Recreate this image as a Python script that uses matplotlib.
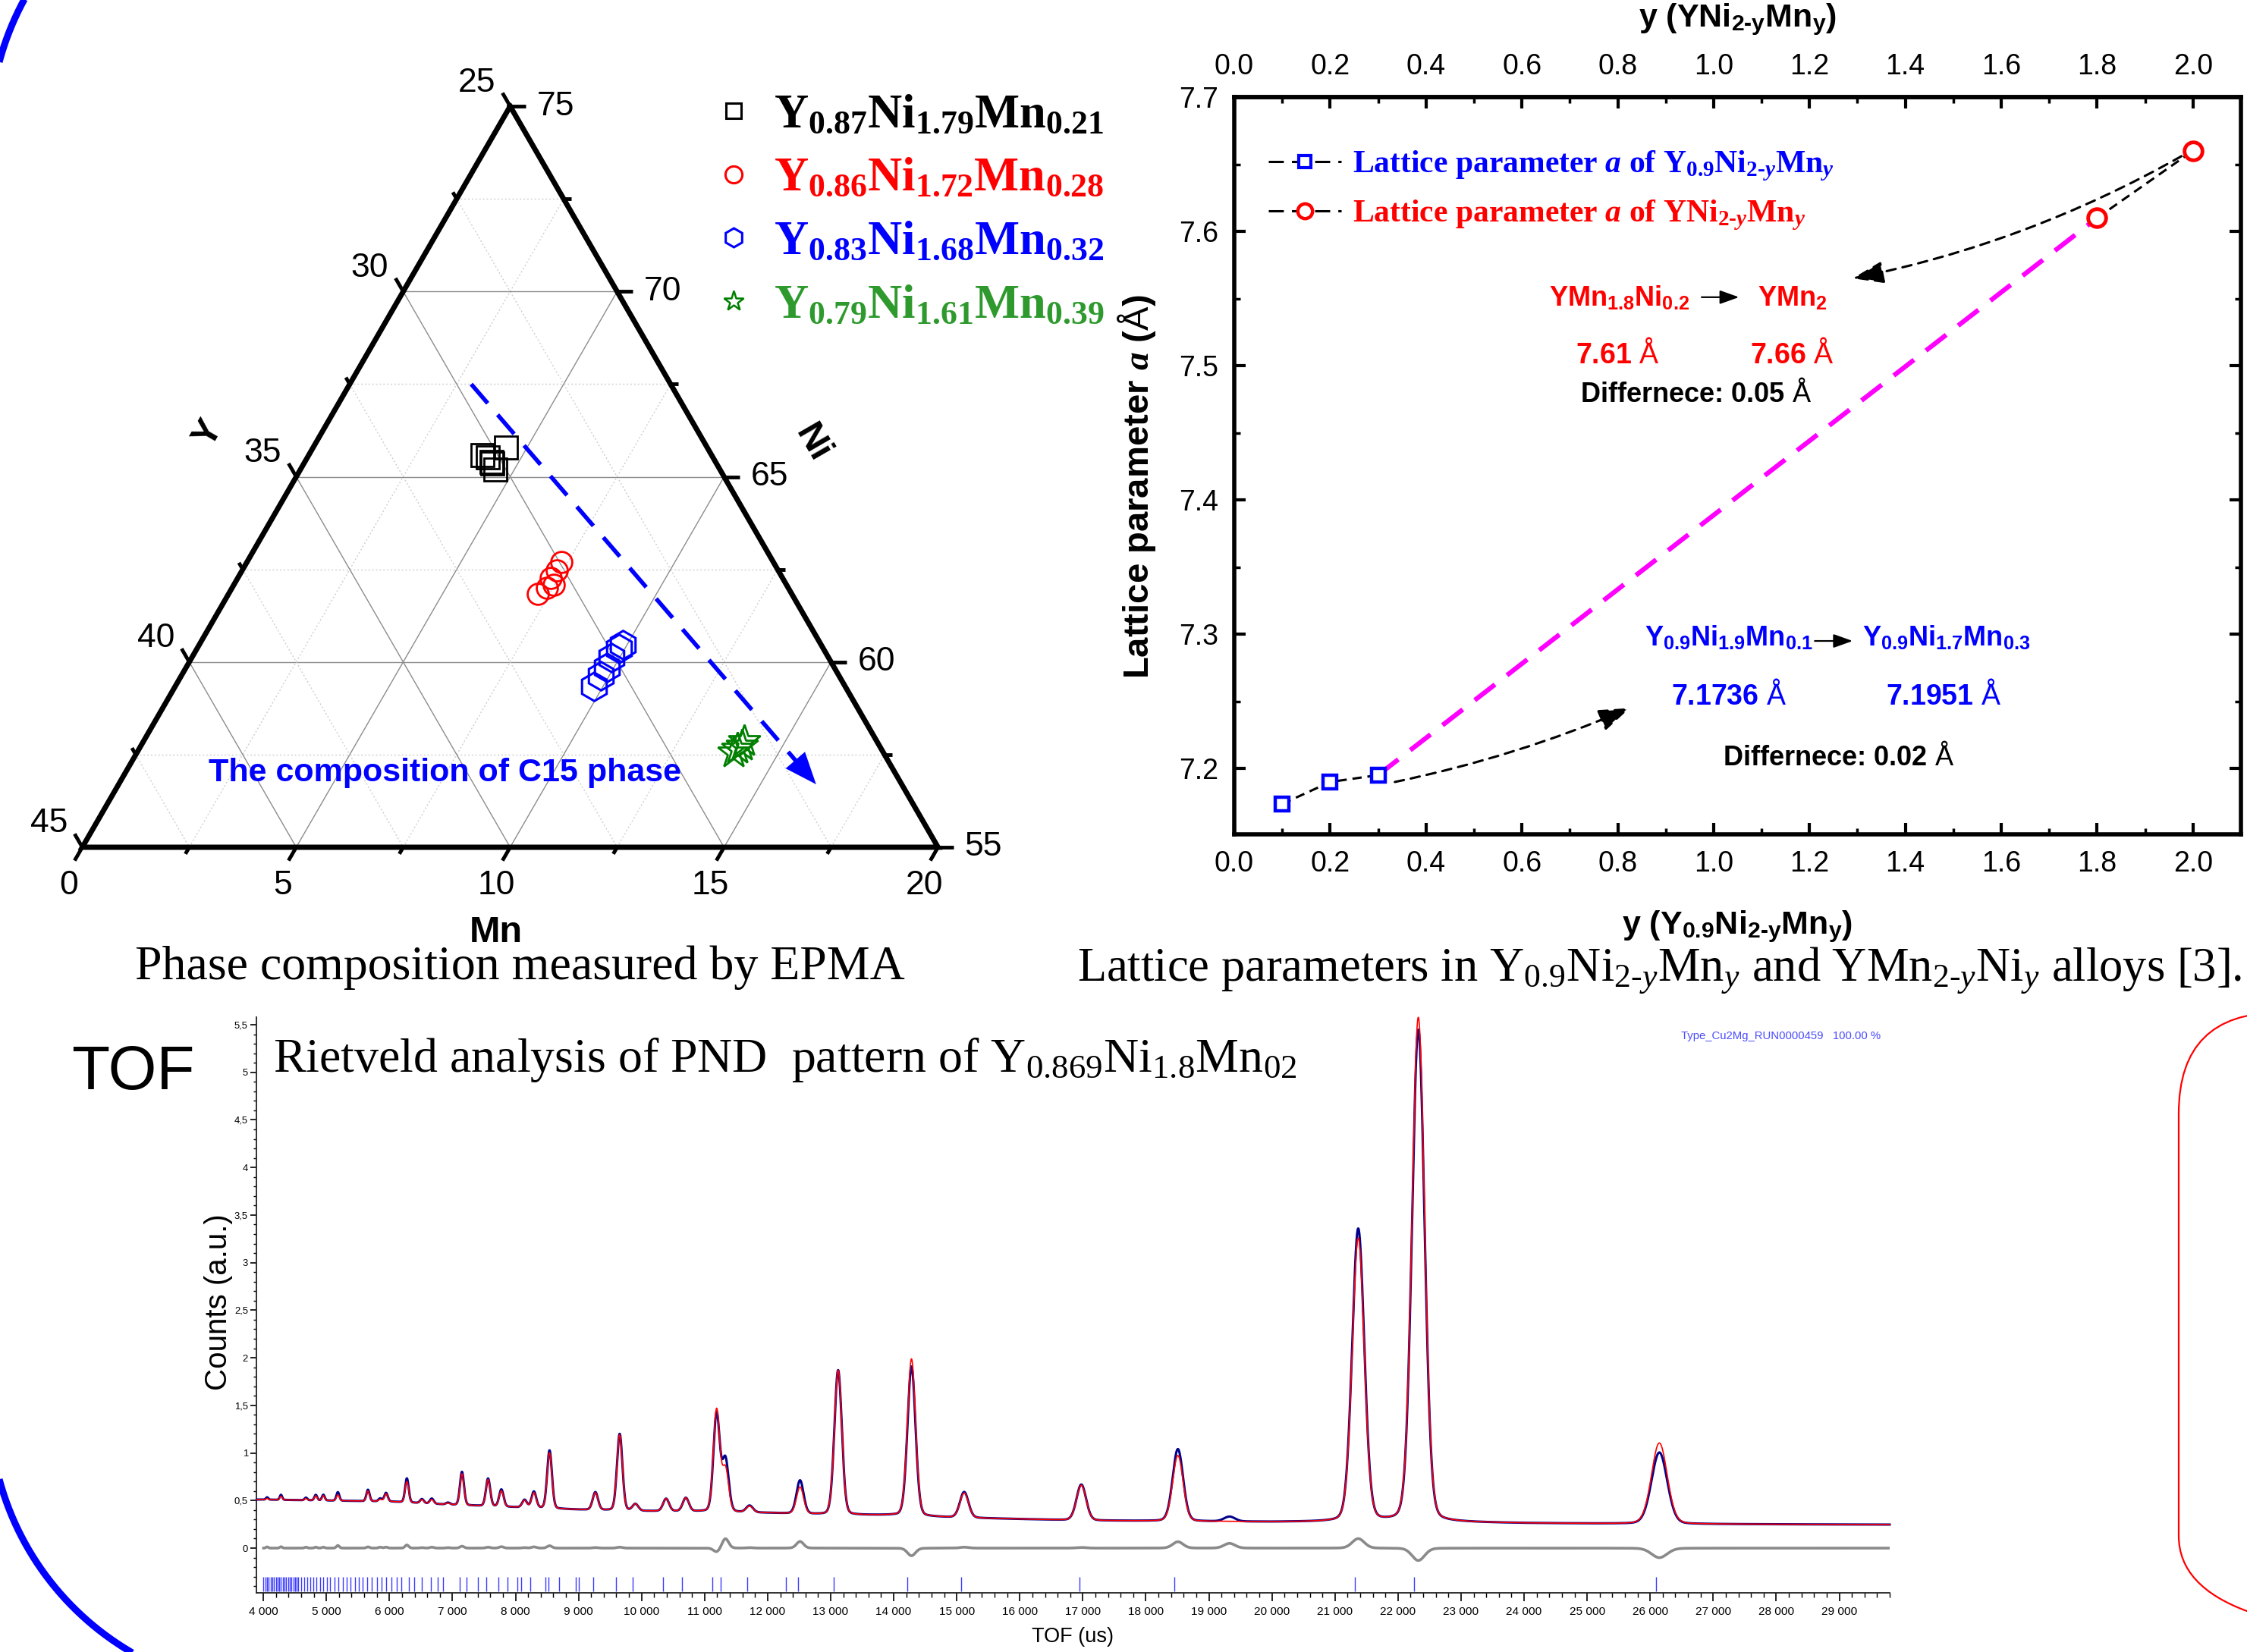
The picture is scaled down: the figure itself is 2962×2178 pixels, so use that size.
import numpy as np
import matplotlib
matplotlib.use('Agg')
import matplotlib.pyplot as plt
from matplotlib.lines import Line2D
from matplotlib.patches import FancyBboxPatch
from matplotlib.ticker import MultipleLocator, FuncFormatter, FormatStrFormatter, FixedLocator
from matplotlib import font_manager

# ====================== DATA ======================
# --- Ternary (EPMA) compositions, at.% (Y = 100 - Ni - Mn) ---
sq_ni = [65.58, 65.79, 65.41, 65.19, 65.53, 65.35]
sq_mn = [4.06, 4.50, 4.36, 4.56, 4.22, 4.40]
ci_ni = [62.69, 62.47, 62.26, 62.09, 61.83, 62.00]
ci_mn = [7.35, 7.35, 7.32, 7.48, 7.23, 7.36]
hx_ni = [60.46, 60.37, 60.11, 59.85, 59.63, 59.34]
hx_mn = [9.90, 9.86, 9.82, 9.83, 9.81, 9.79]
st_ni = [57.87, 57.67, 57.56, 57.75]
st_mn = [14.04, 13.97, 13.94, 14.05]
c15_ni = [67.5, 56.7]
c15_mn = [2.84, 16.3]
tern_labels = [r'Y$_{\mathbf{0.87}}$Ni$_{\mathbf{1.79}}$Mn$_{\mathbf{0.21}}$',
               r'Y$_{\mathbf{0.86}}$Ni$_{\mathbf{1.72}}$Mn$_{\mathbf{0.28}}$',
               r'Y$_{\mathbf{0.83}}$Ni$_{\mathbf{1.68}}$Mn$_{\mathbf{0.32}}$',
               r'Y$_{\mathbf{0.79}}$Ni$_{\mathbf{1.61}}$Mn$_{\mathbf{0.39}}$']

# --- Lattice parameters ---
y_a = [0.1, 0.2, 0.3]
a_a = [7.1736, 7.19, 7.1951]
y_b = [1.8, 2.0]
a_b = [7.61, 7.66]
lat_xticks = [0.0, 0.2, 0.4, 0.6, 0.8, 1.0, 1.2, 1.4, 1.6, 1.8, 2.0]

# --- TOF Rietveld pattern ---
bg_tof = [3890, 4000, 5000, 6000, 7000, 8000, 9000, 10000, 11000, 12000, 13000, 14000,
          15000, 16000, 17000, 18000, 19000, 20000, 21000, 22000, 23000, 24000, 25000,
          26000, 27000, 28000, 29000, 29800]
bg_val = [0.51, 0.51, 0.50, 0.49, 0.455, 0.43, 0.405, 0.39, 0.385, 0.37, 0.35, 0.345,
          0.32, 0.305, 0.29, 0.285, 0.28, 0.275, 0.275, 0.275, 0.27, 0.262, 0.258,
          0.255, 0.252, 0.25, 0.248, 0.247]
pk_tof = [4060, 4280, 4676, 4832, 4952, 5182, 5660, 5854, 5946, 6277, 6516, 6672, 6930,
          7151, 7565, 7776, 8144, 8292, 8540, 9267, 9653, 9902, 10389, 10702, 11190,
          11330, 11714, 12514, 13118, 14282, 15118, 16976, 18508, 19327, 21369, 22322, 26146]
pk_obs = [0.025, 0.053, 0.027, 0.058, 0.060, 0.090, 0.120, 0.030, 0.090, 0.253, 0.043,
          0.054, 0.020, 0.350, 0.290, 0.180, 0.080, 0.170, 0.610, 0.186, 0.805, 0.070,
          0.130, 0.140, 1.030, 0.550, 0.070, 0.350, 1.520, 1.570, 0.270, 0.377, 0.757,
          0.050, 3.075, 5.170, 0.750]
pk_calc = [0.012, 0.038, 0.017, 0.048, 0.050, 0.062, 0.107, 0.020, 0.080, 0.220, 0.038,
           0.044, 0.015, 0.330, 0.280, 0.165, 0.075, 0.157, 0.585, 0.180, 0.795, 0.070,
           0.130, 0.140, 1.070, 0.450, 0.065, 0.280, 1.520, 1.650, 0.260, 0.370, 0.690,
           0.000, 2.975, 5.300, 0.850]
pk_sig = [18, 19, 21, 22, 22, 23, 25, 26, 27, 28, 29, 30, 31, 32, 34, 35, 37, 37, 38, 42,
          43, 45, 47, 48, 50, 51, 53, 56, 59, 64, 68, 76, 83, 87, 96, 100, 125]
bragg = [4004, 4032, 4060, 4087, 4115, 4142, 4170, 4198, 4225, 4253, 4280, 4308, 4336,
         4363, 4391, 4418, 4446, 4474, 4501, 4529, 4556, 4602, 4648, 4694, 4740, 4796,
         4842, 4897, 4952, 5007, 5062, 5127, 5191, 5256, 5320, 5384, 5449, 5513, 5578,
         5651, 5725, 5798, 5872, 5946, 6028, 6111, 6194, 6314, 6396, 6516, 6654, 6764,
         6856, 7114, 7224, 7408, 7537, 7730, 7868, 8034, 8089, 8236, 8476, 8522, 8696,
         8954, 9009, 9230, 9598, 9856, 10343, 10647, 11125, 11254, 11677, 12294, 12478,
         13048, 14210, 15072, 16946, 18457, 21310, 22255, 26095]

# ====================== STYLE ======================
W, H, DPI = 2962, 2178, 100
HY = '\u00ad'  # hyphen glyph for "2-y" subscripts
names = {f.name for f in font_manager.fontManager.ttflist}
NARROW = 'Liberation Sans Narrow' if 'Liberation Sans Narrow' in names else 'Liberation Sans'
nscale = 1.0 if NARROW == 'Liberation Sans Narrow' else 0.85

plt.rcParams.update({
    'font.family': ['Liberation Sans', 'DejaVu Sans'],
    'mathtext.fontset': 'custom',
    'mathtext.rm': 'Liberation Serif',
    'mathtext.it': 'Liberation Serif:italic',
    'mathtext.bf': 'Liberation Serif:bold',
    'mathtext.sf': 'Liberation Sans:bold',
    'mathtext.tt': 'Liberation Sans',
    'mathtext.cal': 'Liberation Sans:bold:italic',
})
if 'mathtext.bfit' in plt.rcParams:
    plt.rcParams['mathtext.bfit'] = 'Liberation Serif:italic:bold'
    BFIT = r'\mathbfit'
else:
    BFIT = r'\mathit'

fig = plt.figure(figsize=(W / DPI, H / DPI), dpi=DPI)
fig.patch.set_facecolor('white')


def fx(px):
    return px / W


def fy(py):
    return 1 - py / H


def rect(l, t, r, b):
    return [fx(l), fy(b), (r - l) / W, (b - t) / H]


# ---------- decorations (blue and red rounded frames) ----------
deco = fig.add_axes([0, 0, 1, 1], zorder=0)
deco.set_xlim(0, W)
deco.set_ylim(H, 0)
deco.axis('off')
R_b, cx_b, ytop_c, ybot_c = 378.0, 364.0, 180.0, 1852.0
th_top = np.radians(np.linspace(270, 180, 60))
th_bot = np.radians(np.linspace(180, 90, 60))
fx_b = np.concatenate([cx_b + R_b * np.cos(th_top), cx_b + R_b * np.cos(th_bot)])
fy_b = np.concatenate([ytop_c + R_b * np.sin(th_top), ybot_c + R_b * np.sin(th_bot)])
deco.plot(fx_b, fy_b, color='#0000ff', lw=6.5, solid_capstyle='butt')
deco.add_patch(FancyBboxPatch((2872, 1335), 500, 823,
                              boxstyle='round,pad=0,rounding_size=133',
                              fc='none', ec='#ff0000', lw=1.6))

# ====================== TERNARY ======================
S3 = np.sqrt(3) / 2


def txy(ni, mn):
    ni = np.asarray(ni, float)
    mn = np.asarray(mn, float)
    a = (ni - 55) / 20
    b = mn / 20
    return b + 0.5 * a, a * S3


X0, Y0, S = 108.5, 1117, 1128
tern = fig.add_axes(rect(0, 0, 1480, 1320), zorder=2)
tern.set_xlim(-X0 / S, (1480 - X0) / S)
tern.set_ylim(-(1320 - Y0) / S, Y0 / S)
tern.axis('off')
tern.patch.set_visible(False)

for v in np.arange(2.5, 19.9, 2.5):
    major = abs(v % 5) < 1e-9
    kw = dict(color='#8c8c8c', lw=1.0, ls='-') if major else \
        dict(color='#cfcfcf', lw=1.0, ls=(0, (1.5, 2.0)))
    x, y = txy([55, 75 - v], [v, v])
    tern.plot(x, y, zorder=1, **kw)
    x, y = txy([55 + v, 55 + v], [0, 20 - v])
    tern.plot(x, y, zorder=1, **kw)
    x, y = txy([75 - v, 55], [0, 20 - v])
    tern.plot(x, y, zorder=1, **kw)

x, y = txy([75, 55, 55, 75], [0, 0, 20, 0])
tern.plot(x, y, color='k', lw=5, solid_joinstyle='miter', zorder=3)

TFS = 32
for k, v in enumerate(np.arange(0, 20.01, 2.5)):
    major = k % 2 == 0
    L = 0.018 if major else 0.009
    # Ni (right side)
    x, y = txy(55 + v, 20 - v)
    tern.plot([x, x + L], [y, y], color='k', lw=3.5, solid_capstyle='butt', zorder=3)
    if major:
        tern.text(x + L + 0.013, y, f'{55 + v:g}', ha='left', va='center', fontsize=TFS)
    # Y (left side)
    x, y = txy(75 - v, 0)
    tern.plot([x, x - 0.5 * L], [y, y + S3 * L], color='k', lw=3.5, solid_capstyle='butt', zorder=3)
    if major:
        tern.text(x - 0.5 * L - 0.008, y + S3 * L + 0.012, f'{25 + v:g}', ha='right',
                  va='center', fontsize=TFS)
    # Mn (bottom)
    x, y = txy(55, v)
    tern.plot([x, x - 0.5 * L], [y, y - S3 * L], color='k', lw=3.5, solid_capstyle='butt', zorder=3)
    if major:
        tern.text(x - 0.5 * L - 0.007, y - S3 * L - 0.011, f'{v:g}', ha='center', va='top',
                  fontsize=TFS)

tern.text(0.4836, -0.100, 'Mn', fontsize=35, fontweight='bold', ha='center', va='center')
tern.text(0.853, 0.4716, 'Ni', fontsize=35, fontweight='bold', ha='center', va='center',
          rotation=-60)
tern.text(0.1467, 0.4832, 'Y', fontsize=35, fontweight='bold', ha='center', va='center',
          rotation=60)

# C15 arrow
ax_, ay_ = txy(c15_ni, c15_mn)
frac = 0.96
tern.plot([ax_[0], ax_[0] + frac * (ax_[1] - ax_[0])], [ay_[0], ay_[0] + frac * (ay_[1] - ay_[0])],
          color='#0000ff', lw=4, ls=(0, (6, 3.6)), zorder=4)
tern.annotate('', xy=(ax_[1], ay_[1]),
              xytext=(ax_[0] + 0.92 * (ax_[1] - ax_[0]), ay_[0] + 0.92 * (ay_[1] - ay_[0])),
              arrowprops=dict(arrowstyle='-|>,head_length=1.0,head_width=0.4', color='#0000ff',
                              lw=0.1, mutation_scale=30, shrinkA=0, shrinkB=0), zorder=4)
tern.text(0.4242, 0.0869, 'The composition of C15 phase', color='#0000ff', fontsize=31,
          fontweight='bold', ha='center', va='center', zorder=5)

# data
x, y = txy(sq_ni, sq_mn)
tern.plot(x, y, ls='none', marker='s', ms=21, mfc='none', mec='k', mew=2.0, zorder=5)
x, y = txy(ci_ni, ci_mn)
tern.plot(x, y, ls='none', marker='o', ms=20, mfc='none', mec='#ff0000', mew=2.0, zorder=5)
x, y = txy(hx_ni, hx_mn)
tern.plot(x, y, ls='none', marker='h', ms=27, mfc='none', mec='#0000ff', mew=2.2, zorder=5)
x, y = txy(st_ni, st_mn)
tern.plot(x, y, ls='none', marker='*', ms=32, mfc='none', mec='#007f00', mew=2.0, zorder=5)

hnd = [Line2D([], [], ls='none', marker='s', ms=15, mfc='none', mec='k', mew=2.2),
       Line2D([], [], ls='none', marker='o', ms=16, mfc='none', mec='#ff0000', mew=2.2),
       Line2D([], [], ls='none', marker='h', ms=18, mfc='none', mec='#0000ff', mew=2.2),
       Line2D([], [], ls='none', marker='*', ms=20, mfc='none', mec='#007f00', mew=1.8)]
tern.legend(hnd, tern_labels, loc='upper left', bbox_to_anchor=(fx(948), fy(124)),
            bbox_transform=fig.transFigure, frameon=False,
            prop={'family': 'Liberation Serif', 'weight': 'bold', 'size': 45},
            labelcolor=['#000000', '#ff0000', '#0000ff', '#2e9a2e'],
            handlelength=0.6, handletextpad=0.55, labelspacing=0.41,
            borderpad=0, borderaxespad=0)

# ====================== LATTICE ======================
lat = fig.add_axes(rect(1627, 128, 2954, 1100), zorder=2)
lat.set_xlim(0, 2.1)
lat.set_ylim(7.151, 7.7)
for s in lat.spines.values():
    s.set_linewidth(4)
lat.xaxis.set_major_locator(FixedLocator(lat_xticks))
lat.xaxis.set_minor_locator(FixedLocator(np.round(np.arange(0.1, 2.05, 0.2), 2)))
lat.yaxis.set_major_locator(MultipleLocator(0.1))
lat.yaxis.set_minor_locator(MultipleLocator(0.05))
lat.xaxis.set_major_formatter(FormatStrFormatter('%.1f'))
lat.yaxis.set_major_formatter(FormatStrFormatter('%.1f'))
lat.tick_params(which='major', direction='in', length=11, width=3, labelsize=27)
lat.tick_params(which='minor', direction='in', length=6, width=2.5)
lat.tick_params(axis='y', which='both', right=True, pad=15)
lat.tick_params(axis='x', which='both', top=False, pad=15)

sec = lat.secondary_xaxis('top')
sec.xaxis.set_major_locator(FixedLocator(lat_xticks))
sec.xaxis.set_minor_locator(FixedLocator(np.round(np.arange(0.1, 2.05, 0.2), 2)))
sec.xaxis.set_major_formatter(FormatStrFormatter('%.1f'))
sec.tick_params(which='major', direction='in', length=11, width=3, labelsize=27, pad=16)
sec.tick_params(which='minor', direction='in', length=6, width=2.5)
sec.spines['top'].set_linewidth(4)
sec.set_xlabel(r'y (YNi$_{\mathsf{2' + HY + r'y}}$Mn$_{\mathsf{y}}$)', fontsize=31,
               fontweight='bold', labelpad=25)

lat.set_xlabel(r'y (Y$_{\mathsf{0.9}}$Ni$_{\mathsf{2' + HY + r'y}}$Mn$_{\mathsf{y}}$)', fontsize=31,
               fontweight='bold', labelpad=30)
lat.set_ylabel(r'Lattice parameter $' + BFIT + r'{a}$ ($\mathtt{Å}$)', fontsize=34,
               fontweight='bold')
lat.yaxis.set_label_coords(-0.076, 0.471)

lat.plot([y_a[-1], y_b[0]], [a_a[-1], a_b[0]], color='#ff00ff', lw=4.5, ls=(0, (5.4, 3.2)),
         zorder=2)
lat.plot(y_a, a_a, color='k', lw=2.2, ls=(0, (4, 2.5)), marker='s', ms=13, mfc='white',
         mec='#0000ff', mew=3.2, zorder=4)
lat.plot(y_b, a_b, color='k', lw=2.2, ls=(0, (4, 2.5)), marker='o', ms=17, mfc='white',
         mec='#ff0000', mew=3.5, zorder=4)

lat.annotate('', xy=(0.825, 7.245), xytext=(0.335, 7.19),
             arrowprops=dict(arrowstyle='-|>,head_length=0.9,head_width=0.32', color='k', lw=2.2,
                             ls=(0, (4, 3)), connectionstyle='arc3,rad=0.05', shrinkA=0,
                             shrinkB=0, mutation_scale=28))
lat.annotate('', xy=(1.29, 7.565), xytext=(1.976, 7.656),
             arrowprops=dict(arrowstyle='-|>,head_length=0.9,head_width=0.32', color='k', lw=2.2,
                             ls=(0, (4, 3)), connectionstyle='arc3,rad=-0.08', shrinkA=0,
                             shrinkB=0, mutation_scale=28))
for (x0, x1, yy) in [(0.975, 1.053, 7.551), (1.211, 1.290, 7.295)]:
    lat.annotate('', xy=(x1, yy), xytext=(x0, yy),
                 arrowprops=dict(arrowstyle='-|>,head_length=0.7,head_width=0.25', color='k',
                                 lw=1.6, shrinkA=0, shrinkB=0, mutation_scale=22))

AFS = 26
lat.text(0.8035, 7.544, r'YMn$_{\mathsf{1.8}}$Ni$_{\mathsf{0.2}}$', color='#ff0000', fontsize=AFS,
         fontweight='bold', ha='center', va='baseline')
lat.text(1.165, 7.544, r'YMn$_{\mathsf{2}}$', color='#ff0000', fontsize=AFS, fontweight='bold',
         ha='center', va='baseline')
lat.text(0.800, 7.502, r'7.61 $\mathtt{Å}$', color='#ff0000', fontsize=27, fontweight='bold',
         ha='center', va='baseline')
lat.text(1.163, 7.502, r'7.66 $\mathtt{Å}$', color='#ff0000', fontsize=27, fontweight='bold',
         ha='center', va='baseline')
lat.text(0.9635, 7.473, r'Differnece: 0.05 $\mathtt{Å}$', color='k', fontsize=26,
         fontweight='bold', ha='center', va='baseline')
lat.text(1.032, 7.291, r'Y$_{\mathsf{0.9}}$Ni$_{\mathsf{1.9}}$Mn$_{\mathsf{0.1}}$', color='#0000ff',
         fontsize=AFS, fontweight='bold', ha='center', va='baseline')
lat.text(1.485, 7.291, r'Y$_{\mathsf{0.9}}$Ni$_{\mathsf{1.7}}$Mn$_{\mathsf{0.3}}$', color='#0000ff',
         fontsize=AFS, fontweight='bold', ha='center', va='baseline')
lat.text(1.032, 7.2475, r'7.1736 $\mathtt{Å}$', color='#0000ff', fontsize=27, fontweight='bold',
         ha='center', va='baseline')
lat.text(1.479, 7.2475, r'7.1951 $\mathtt{Å}$', color='#0000ff', fontsize=27, fontweight='bold',
         ha='center', va='baseline')
lat.text(1.260, 7.2023, r'Differnece: 0.02 $\mathtt{Å}$', color='k', fontsize=26,
         fontweight='bold', ha='center', va='baseline')

lh = [Line2D([], [], color='k', lw=2.2, ls=(0, (6.5, 3.5)), marker='s', ms=12, mfc='white',
             mec='#0000ff', mew=3),
      Line2D([], [], color='k', lw=2.2, ls=(0, (6.5, 3.5)), marker='o', ms=14, mfc='white',
             mec='#ff0000', mew=3.2)]
ll = [r'Lattice parameter $' + BFIT + r'{a}$ of Y$_{\mathbf{0.9}}$Ni$_{\mathbf{2' + HY + r'}' + BFIT +
      r'{y}}$Mn$_{' + BFIT + r'{y}}$',
      r'Lattice parameter $' + BFIT + r'{a}$ of YNi$_{\mathbf{2' + HY + r'}' + BFIT + r'{y}}$Mn$_{' +
      BFIT + r'{y}}$']
lat.legend(lh, ll, loc='upper left', bbox_to_anchor=(0.034, 0.929), frameon=False,
           prop={'family': 'Liberation Serif', 'weight': 'bold', 'size': 30},
           labelcolor=['#0000ff', '#ff0000'], handlelength=2.3, handletextpad=0.35,
           labelspacing=0.49, borderpad=0, borderaxespad=0)

# ====================== TOF ======================
tof = fig.add_axes(rect(338, 1341, 2491, 2100), zorder=2)
tof.set_xlim(3890, 29800)
tof.set_ylim(-0.470, 5.580)
for s in ['top', 'right']:
    tof.spines[s].set_visible(False)
for s in ['left', 'bottom']:
    tof.spines[s].set_linewidth(1.3)
    tof.spines[s].set_color('#222222')

t = np.arange(3895.0, 29800.0, 4.0)


def pv(tt, t0, s, eta=0.12):
    g = np.exp(-0.5 * ((tt - t0) / s) ** 2)
    lo = 1.0 / (1.0 + ((tt - t0) / (1.1774 * s)) ** 2)
    return (1 - eta) * g + eta * lo


bg = np.interp(t, bg_tof, bg_val)
calc = bg.copy()
obs = bg.copy()
for t0, ho, hc, s in zip(pk_tof, pk_obs, pk_calc, pk_sig):
    prof = pv(t, t0, s)
    obs += ho * prof
    calc += hc * prof
diff = obs - calc
m = t >= 4000
tof.plot(t, obs, color='#00008b', lw=2.2, zorder=3, clip_on=False)
tof.plot(t, calc, color='#ff0000', lw=1.2, zorder=4, clip_on=False)
tof.plot(t[m], diff[m], color='#8a8a8a', lw=2.6, zorder=3)
tof.vlines(bragg, -0.455, -0.30, color='#3a3aff', lw=1.0, zorder=3)

tof.xaxis.set_major_locator(MultipleLocator(1000))
tof.xaxis.set_minor_locator(MultipleLocator(200))
tof.yaxis.set_major_locator(MultipleLocator(0.5))
tof.yaxis.set_minor_locator(MultipleLocator(0.1))
tof.xaxis.set_major_formatter(FuncFormatter(lambda v, p: f'{int(round(v)):,}'.replace(',', ' ')))
tof.yaxis.set_major_formatter(FuncFormatter(
    lambda v, p: f'{v:g}'.replace('.', ',') if v > -0.01 else ''))
tof.tick_params(axis='x', which='major', length=8, width=1.2, labelsize=13 * nscale, pad=5,
                labelfontfamily=NARROW)
tof.tick_params(axis='x', which='minor', length=4, width=1.0)
tof.tick_params(axis='y', which='major', length=6, width=1.2, labelsize=11 * nscale, pad=2,
                labelfontfamily=NARROW)
tof.tick_params(axis='y', which='minor', length=3, width=1.0)
tof.set_xlabel('TOF (us)', fontsize=23 * nscale, fontfamily=NARROW, labelpad=9)
tof.set_ylabel('Counts (a.u.)', fontsize=29)
tof.yaxis.set_label_coords(-0.0145, 0.505)

fig.text(fx(2348), fy(1366), 'Type_Cu2Mg_RUN0000459   100.00 %', color='#4b4bff',
         fontsize=12.6 * nscale, fontfamily=NARROW, ha='center', va='center')
fig.text(fx(360), fy(1413), r'Rietveld analysis of PND  pattern of Y$_{0.869}$Ni$_{1.8}$Mn$_{02}$',
         fontfamily='Liberation Serif', fontsize=46, ha='left', va='baseline')
fig.text(fx(94), fy(1436), 'TOF', fontsize=59, ha='left', va='baseline')

# ====================== CAPTIONS ======================
fig.text(fx(685), fy(1291), 'Phase composition measured by EPMA', fontfamily='Liberation Serif',
         fontsize=46, ha='center', va='baseline')
fig.text(fx(1420), fy(1292),
         r'Lattice parameters in Y$_{0.9}$Ni$_{2' + HY + r'y}$Mn$_{y}$ and YMn$_{2' + HY +
         r'y}$Ni$_{y}$ alloys [3].',
         fontfamily='Liberation Serif', fontsize=45, ha='left', va='baseline')

fig.savefig('out.png', dpi=DPI)
